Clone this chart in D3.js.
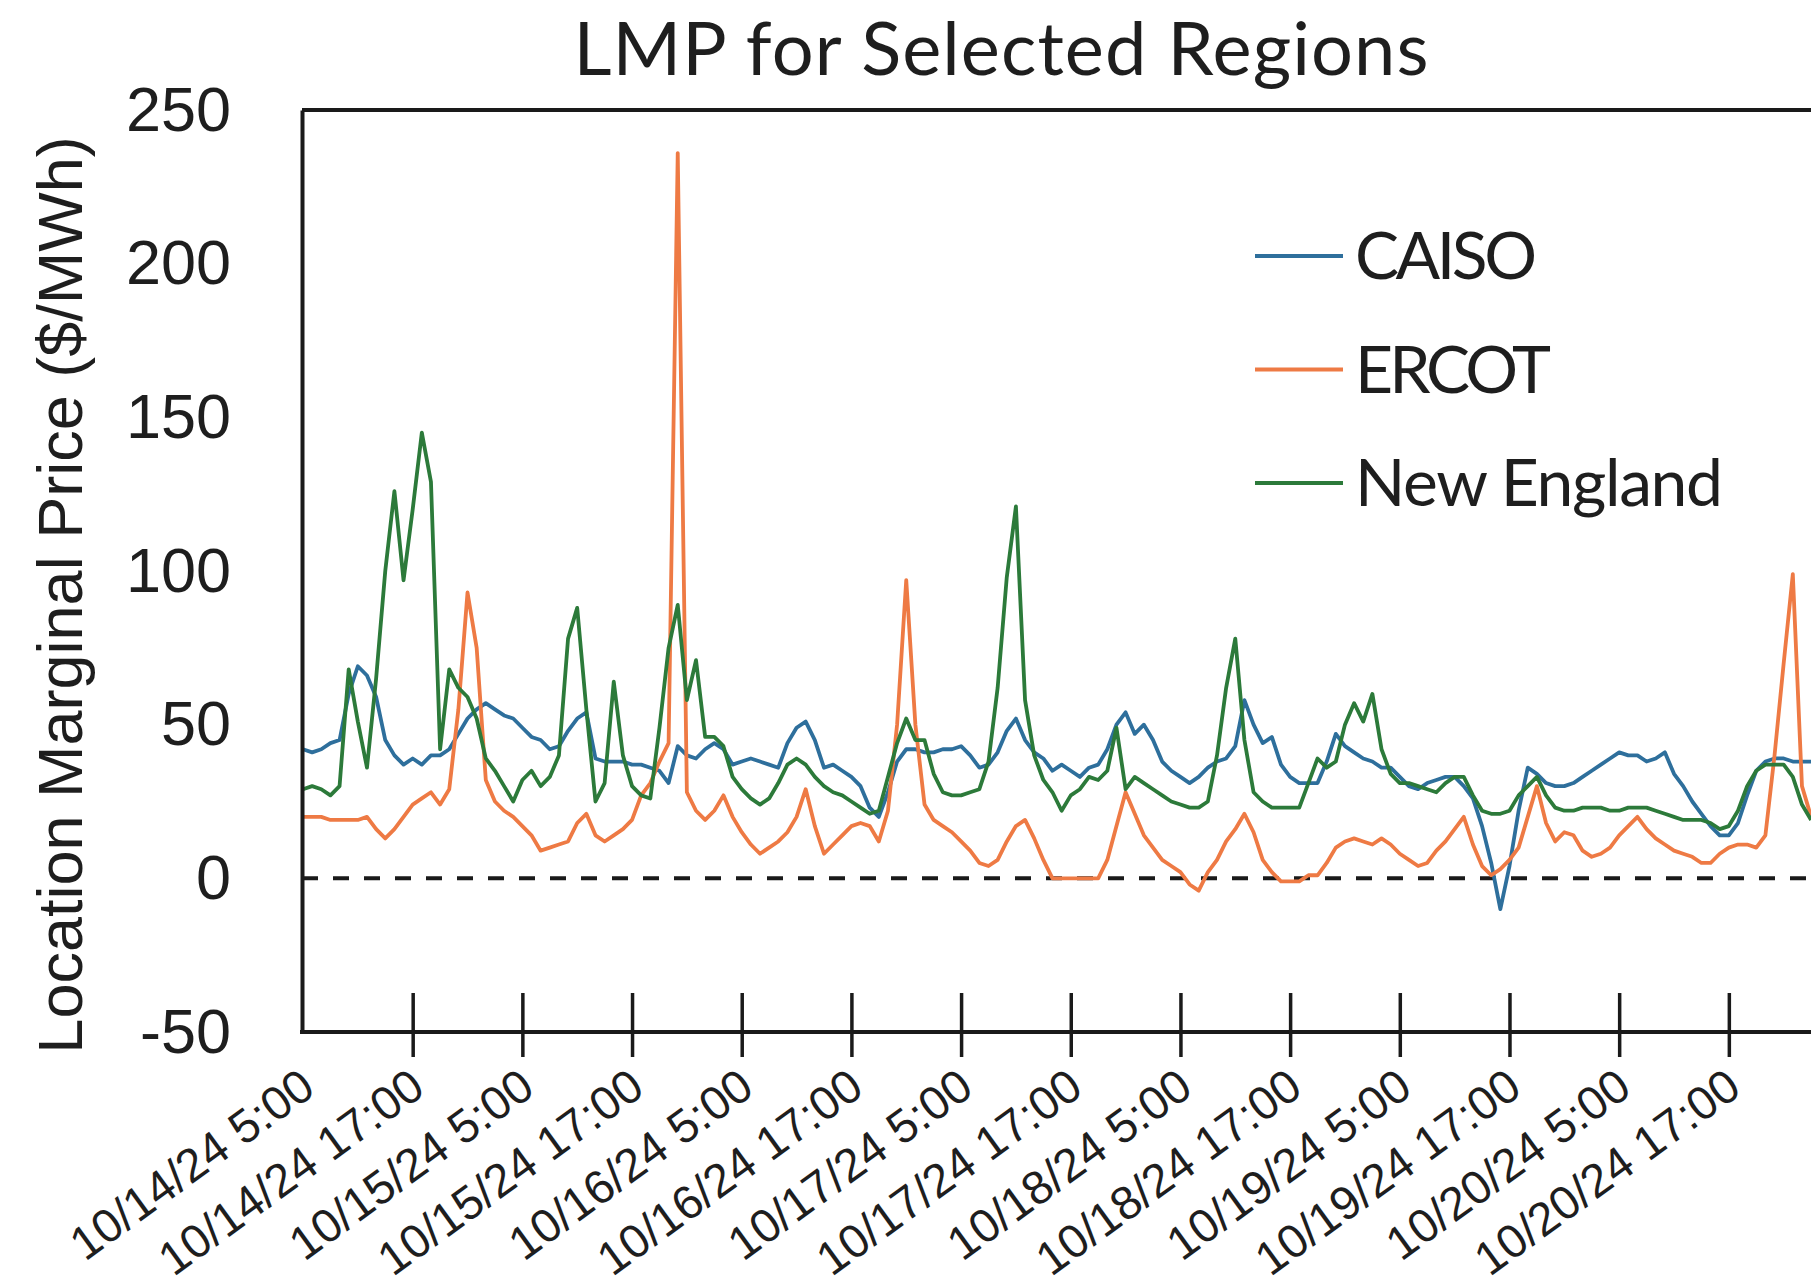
<!DOCTYPE html>
<html>
<head>
<meta charset="utf-8">
<script src="https://cdn.jsdelivr.net/npm/d3@7"></script>
<style>
  html, body { margin: 0; padding: 0; background: #fff; overflow: hidden; }
  svg { display: block; }
</style>
</head>
<body>
<div id="chart"></div>
<script>
// hourly prices starting 10/14/24 5:00
const startLabel = "10/14/24 5:00";
const xTickLabels = [
    "10/14/24 5:00", "10/14/24 17:00", "10/15/24 5:00", "10/15/24 17:00",
    "10/16/24 5:00", "10/16/24 17:00", "10/17/24 5:00", "10/17/24 17:00",
    "10/18/24 5:00", "10/18/24 17:00", "10/19/24 5:00", "10/19/24 17:00",
    "10/20/24 5:00", "10/20/24 17:00"
];
const yTickValues = [-50, 0, 50, 100, 150, 200, 250];
const seriesNames = ["CAISO", "ERCOT", "New England"];

const caisoPrices = [
    42, 41, 42, 44, 45, 60, 69, 66, 59, 45,
    40, 37, 39, 37, 40, 40, 42, 47, 52, 55,
    57, 55, 53, 52, 49, 46, 45, 42, 43, 48,
    52, 54, 39, 38, 38, 38, 37, 37, 36, 35,
    31, 43, 40, 39, 42, 44, 42, 37, 38, 39,
    38, 37, 36, 44, 49, 51, 45, 36, 37, 35,
    33, 30, 23, 20, 28, 38, 42, 42, 41, 41,
    42, 42, 43, 40, 36, 37, 41, 48, 52, 45,
    41, 39, 35, 37, 35, 33, 36, 37, 42, 50,
    54, 47, 50, 45, 38, 35, 33, 31, 33, 36,
    38, 39, 43, 58, 50, 44, 46, 37, 33, 31,
    31, 31, 38, 47, 43, 41, 39, 38, 36, 36,
    33, 30, 29, 31, 32, 33, 33, 30, 26, 17,
    5, -10, 4, 22, 36, 34, 31, 30, 30, 31,
    33, 35, 37, 39, 41, 40, 40, 38, 39, 41,
    34, 30, 25, 21, 17, 14, 14, 18, 27, 35,
    38, 39, 39, 38, 38, 38
];

const ercotPrices = [
    20, 20, 20, 19, 19, 19, 19, 20, 16, 13,
    16, 20, 24, 26, 28, 24, 29, 55, 93, 75,
    32, 25, 22, 20, 17, 14, 9, 10, 11, 12,
    18, 21, 14, 12, 14, 16, 19, 27, 31, 38,
    44, 236, 28, 22, 19, 22, 27, 20, 15, 11,
    8, 10, 12, 15, 20, 29, 17, 8, 11, 14,
    17, 18, 17, 12, 22, 50, 97, 50, 24, 19,
    17, 15, 12, 9, 5, 4, 6, 12, 17, 19,
    13, 6, 0, 0, 0, 0, 0, 0, 6, 17,
    28, 21, 14, 10, 6, 4, 2, -2, -4, 2,
    6, 12, 16, 21, 15, 6, 2, -1, -1, -1,
    1, 1, 5, 10, 12, 13, 12, 11, 13, 11,
    8, 6, 4, 5, 9, 12, 16, 20, 11, 4,
    1, 3, 6, 10, 20, 30, 18, 12, 15, 14,
    9, 7, 8, 10, 14, 17, 20, 16, 13, 11,
    9, 8, 7, 5, 5, 8, 10, 11, 11, 10,
    14, 40, 70, 99, 30, 20
];

const newEnglandPrices = [
    29, 30, 29, 27, 30, 68, 51, 36, 65, 100,
    126, 97, 120, 145, 129, 42, 68, 62, 59, 52,
    39, 35, 30, 25, 32, 35, 30, 33, 40, 78,
    88, 55, 25, 31, 64, 40, 30, 27, 26, 49,
    75, 89, 58, 71, 46, 46, 43, 33, 29, 26,
    24, 26, 31, 37, 39, 37, 33, 30, 28, 27,
    25, 23, 21, 22, 33, 44, 52, 45, 45, 34,
    28, 27, 27, 28, 29, 38, 62, 98, 121, 58,
    40, 32, 28, 22, 27, 29, 33, 32, 35, 49,
    29, 33, 31, 29, 27, 25, 24, 23, 23, 25,
    40, 62, 78, 45, 28, 25, 23, 23, 23, 23,
    31, 39, 36, 38, 50, 57, 51, 60, 42, 34,
    31, 31, 30, 29, 28, 31, 33, 33, 27, 22,
    21, 21, 22, 27, 30, 33, 27, 23, 22, 22,
    23, 23, 23, 22, 22, 23, 23, 23, 22, 21,
    20, 19, 19, 19, 18, 16, 17, 22, 30, 35,
    37, 37, 37, 33, 24, 19
];

class LmpChart {
    constructor(_config, _data) {
        this.config = {
            parentElement: _config.parentElement,
            containerWidth: _config.containerWidth || 1811,
            containerHeight: _config.containerHeight || 1287,
            plotLeft: 302,
            plotTop: 110,
            plotBottom: 1032,
            hourWidth: 9.14,
            spanHours: 168,
            labelAngle: -36,
            colors: ["#2e6f9c", "#ee7a44", "#2c7a3a"],
        }
        this.data = _data;
        this.initVis();
    }

    initVis() {
        let vis = this;
        const cfg = vis.config;

        vis.svg = d3.select(cfg.parentElement).append("svg")
            .attr("width", cfg.containerWidth)
            .attr("height", cfg.containerHeight);

        const parseTime = d3.timeParse("%m/%d/%y %H:%M");
        vis.start = parseTime(startLabel);

        vis.x = d3.scaleTime()
            .domain([vis.start, d3.timeHour.offset(vis.start, cfg.spanHours)])
            .range([cfg.plotLeft + 1, cfg.plotLeft + 1 + cfg.spanHours * cfg.hourWidth]);

        vis.y = d3.scaleLinear()
            .domain([-50, 250])
            .range([cfg.plotBottom, cfg.plotTop]);

        vis.tickDates = xTickLabels.map(parseTime);

        vis.series = seriesNames.map((name, i) => ({
            name: name,
            color: cfg.colors[i],
            values: vis.data[i].map((v, h) => ({ t: d3.timeHour.offset(vis.start, h), v: v }))
        }));

        vis.renderVis();
    }

    renderVis() {
        let vis = this;
        const cfg = vis.config;
        const right = cfg.containerWidth + 20;

        // title
        vis.svg.append("text")
            .attr("x", 1001)
            .attr("y", 75)
            .attr("text-anchor", "middle")
            .attr("font-family", "Lato, 'Open Sans', sans-serif")
            .attr("font-size", 74)
            .attr("textLength", 855)
            .attr("lengthAdjust", "spacing")
            .attr("fill", "#1e1e1e")
            .text("LMP for Selected Regions");

        // zero reference line
        vis.svg.append("line")
            .attr("x1", cfg.plotLeft)
            .attr("x2", right)
            .attr("y1", vis.y(0))
            .attr("y2", vis.y(0))
            .attr("stroke", "#1a1a1a")
            .attr("stroke-width", 4)
            .attr("stroke-dasharray", "16 15");

        // series
        const line = d3.line()
            .x(d => vis.x(d.t))
            .y(d => vis.y(d.v));

        vis.svg.selectAll(".series")
            .data(vis.series)
            .join("path")
            .attr("class", "series")
            .attr("fill", "none")
            .attr("stroke", d => d.color)
            .attr("stroke-width", 3.8)
            .attr("stroke-linejoin", "round")
            .attr("d", d => line(d.values));

        // top frame line
        vis.svg.append("line")
            .attr("x1", cfg.plotLeft)
            .attr("x2", right)
            .attr("y1", cfg.plotTop)
            .attr("y2", cfg.plotTop)
            .attr("stroke", "#1a1a1a")
            .attr("stroke-width", 4);

        // y axis
        const yAxis = d3.axisLeft(vis.y)
            .tickValues(yTickValues)
            .tickSize(0)
            .tickPadding(71)
            .tickFormat(d => String(d));

        const yg = vis.svg.append("g")
            .attr("transform", `translate(${cfg.plotLeft},0)`)
            .call(yAxis);
        yg.select(".domain").attr("stroke", "#1a1a1a").attr("stroke-width", 4);
        yg.selectAll("text")
            .attr("font-family", "'Liberation Sans', Arial, sans-serif")
            .attr("font-size", 63)
            .attr("fill", "#1e1e1e");

        // x axis
        const xAxis = d3.axisBottom(vis.x)
            .tickValues(vis.tickDates)
            .tickSizeInner(25)
            .tickSizeOuter(0)
            .tickFormat((d, i) => xTickLabels[i]);

        const xg = vis.svg.append("g")
            .attr("transform", `translate(0,${cfg.plotBottom})`)
            .call(xAxis);
        xg.select(".domain")
            .attr("d", `M${cfg.plotLeft - 2},0H${right}`)
            .attr("stroke", "#1a1a1a")
            .attr("stroke-width", 4);
        xg.selectAll(".tick line")
            .attr("y1", -39)
            .attr("stroke", "#1a1a1a")
            .attr("stroke-width", 3.5);
        xg.selectAll(".tick").filter((d, i) => i === 0).select("line").remove();
        xg.selectAll(".tick text")
            .attr("x", 0)
            .attr("y", 0)
            .attr("dy", null)
            .attr("text-anchor", "end")
            .attr("transform", `translate(14,61) rotate(${cfg.labelAngle})`)
            .attr("font-family", "'Liberation Sans', Arial, sans-serif")
            .attr("font-size", 47)
            .attr("fill", "#1e1e1e");

        // y axis title
        vis.svg.append("text")
            .attr("transform", "translate(82,595) rotate(-90)")
            .attr("text-anchor", "middle")
            .attr("font-family", "'Liberation Sans', Arial, sans-serif")
            .attr("font-size", 63)
            .attr("fill", "#1e1e1e")
            .text("Location Marginal Price ($/MWh)");

        // legend
        const legendWidths = [182, 196, 368];
        const legend = vis.svg.append("g")
            .attr("transform", "translate(1255,256)");
        const item = legend.selectAll(".legend-item")
            .data(vis.series)
            .join("g")
            .attr("class", "legend-item")
            .attr("transform", (d, i) => `translate(0,${i * 113.5})`);
        item.append("line")
            .attr("x1", 0)
            .attr("x2", 88)
            .attr("stroke", d => d.color)
            .attr("stroke-width", 4);
        item.append("text")
            .attr("x", 100)
            .attr("y", 23)
            .attr("font-family", "Lato, 'Open Sans', sans-serif")
            .attr("font-size", 66)
            .attr("textLength", (d, i) => legendWidths[i])
            .attr("lengthAdjust", "spacing")
            .attr("fill", "#1e1e1e")
            .text(d => d.name);
    }
}

new LmpChart({ parentElement: "#chart" }, [caisoPrices, ercotPrices, newEnglandPrices]);
</script>
</body>
</html>
